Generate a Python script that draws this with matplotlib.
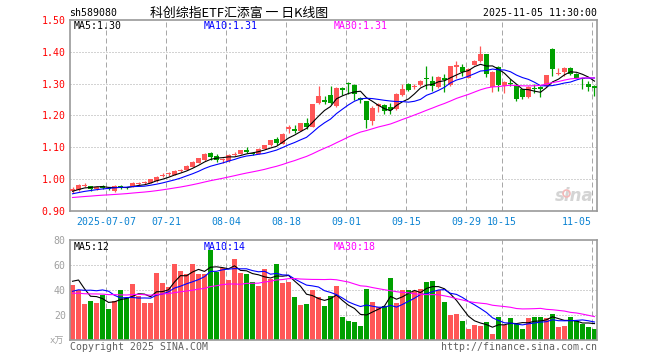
import numpy as np
import pandas as pd
import matplotlib
matplotlib.use("Agg")
import matplotlib.pyplot as plt

# daily candles 2025-06-27 .. 2025-11-05
open_ = [0.964, 0.965, 0.980, 0.978, 0.968, 0.977, 0.972, 0.963, 0.978, 0.974,
         0.977, 0.985, 0.988, 0.989, 0.993, 1.010, 1.015, 1.014, 1.025, 1.030,
         1.039, 1.052, 1.060, 1.082, 1.073, 1.060, 1.057, 1.077, 1.080, 1.091,
         1.082, 1.080, 1.096, 1.106, 1.125, 1.111, 1.159, 1.159, 1.152, 1.176,
         1.165, 1.238, 1.250, 1.263, 1.230, 1.285, 1.302, 1.297, 1.254, 1.245,
         1.183, 1.230, 1.232, 1.226, 1.220, 1.265, 1.300, 1.291, 1.296, 1.318,
         1.308, 1.288, 1.319, 1.296, 1.353, 1.353, 1.319, 1.360, 1.371, 1.392,
         1.288, 1.352, 1.293, 1.302, 1.293, 1.282, 1.258, 1.287, 1.290, 1.293,
         1.410, 1.329, 1.337, 1.348, 1.331, 1.318, 1.300, 1.293]
close = [0.970, 0.982, 0.983, 0.970, 0.975, 0.973, 0.970, 0.980, 0.973, 0.972,
         0.988, 0.988, 0.991, 0.999, 1.008, 1.013, 1.018, 1.027, 1.029, 1.041,
         1.055, 1.065, 1.080, 1.070, 1.060, 1.063, 1.077, 1.080, 1.091, 1.086,
         1.079, 1.096, 1.106, 1.122, 1.113, 1.142, 1.163, 1.152, 1.176, 1.165,
         1.235, 1.261, 1.242, 1.238, 1.287, 1.281, 1.298, 1.266, 1.249, 1.185,
         1.224, 1.235, 1.214, 1.216, 1.269, 1.282, 1.279, 1.294, 1.308, 1.314,
         1.293, 1.321, 1.310, 1.355, 1.358, 1.336, 1.347, 1.371, 1.392, 1.331,
         1.338, 1.296, 1.306, 1.299, 1.253, 1.258, 1.290, 1.282, 1.282, 1.326,
         1.347, 1.334, 1.350, 1.329, 1.319, 1.315, 1.290, 1.287]
high = [0.975, 0.984, 0.987, 0.980, 0.977, 0.981, 0.974, 0.982, 0.981, 0.976,
        0.990, 0.992, 0.995, 1.001, 1.010, 1.018, 1.022, 1.029, 1.033, 1.043,
        1.057, 1.067, 1.082, 1.085, 1.080, 1.068, 1.079, 1.084, 1.093, 1.101,
        1.085, 1.098, 1.108, 1.124, 1.133, 1.144, 1.170, 1.169, 1.178, 1.191,
        1.237, 1.292, 1.260, 1.292, 1.289, 1.288, 1.306, 1.299, 1.259, 1.247,
        1.231, 1.238, 1.235, 1.240, 1.271, 1.300, 1.302, 1.300, 1.310, 1.355,
        1.324, 1.323, 1.331, 1.357, 1.370, 1.362, 1.349, 1.373, 1.418, 1.394,
        1.340, 1.355, 1.308, 1.314, 1.295, 1.284, 1.292, 1.298, 1.292, 1.328,
        1.412, 1.350, 1.352, 1.352, 1.333, 1.319, 1.308, 1.295]
low = [0.958, 0.963, 0.976, 0.964, 0.966, 0.968, 0.966, 0.961, 0.970, 0.969,
       0.975, 0.982, 0.985, 0.987, 0.991, 1.006, 1.011, 1.012, 1.021, 1.028,
       1.037, 1.050, 1.058, 1.061, 1.055, 1.052, 1.055, 1.074, 1.078, 1.081,
       1.076, 1.078, 1.094, 1.104, 1.108, 1.109, 1.145, 1.146, 1.150, 1.159,
       1.163, 1.236, 1.235, 1.235, 1.228, 1.263, 1.268, 1.248, 1.240, 1.162,
       1.171, 1.212, 1.204, 1.204, 1.218, 1.262, 1.277, 1.283, 1.294, 1.283,
       1.277, 1.286, 1.274, 1.294, 1.318, 1.324, 1.317, 1.358, 1.369, 1.321,
       1.275, 1.276, 1.272, 1.293, 1.246, 1.251, 1.256, 1.272, 1.258, 1.291,
       1.324, 1.327, 1.324, 1.327, 1.317, 1.282, 1.277, 1.261]
volume = [44.0, 40.0, 28.8, 31.2, 29.6, 36.0, 24.8, 31.2, 40.0, 33.9,
          44.8, 35.2, 29.6, 29.6, 53.6, 45.6, 42.4, 60.8, 55.2, 52.8,
          60.8, 52.8, 52.8, 72.0, 54.4, 57.6, 48.0, 64.8, 53.6, 52.8,
          46.4, 43.2, 56.8, 48.8, 60.8, 45.6, 46.4, 34.4, 28.0, 28.8,
          40.0, 34.4, 27.2, 35.0, 43.2, 18.4, 15.2, 14.4, 11.2, 40.8,
          30.4, 26.4, 27.2, 49.6, 29.6, 40.0, 40.0, 39.2, 40.8, 46.4,
          47.2, 40.0, 30.4, 20.0, 20.8, 15.2, 8.8, 12.0, 11.2, 14.4,
          4.8, 18.4, 12.0, 17.6, 12.8, 8.8, 17.6, 18.4, 18.4, 17.6,
          20.8, 10.4, 11.2, 18.4, 15.2, 12.8, 10.4, 8.8]

# sessions before the window, only needed so the moving averages start right
close_before = [0.935, 0.938, 0.930, 0.928, 0.933, 0.940, 0.942, 0.936, 0.931, 0.934,
                0.939, 0.944, 0.941, 0.937, 0.935, 0.932, 0.936, 0.940, 0.938, 0.942,
                0.944, 0.946, 0.943, 0.948, 0.950, 0.955, 0.958, 0.962, 0.965]
volume_before = [38, 42, 35, 31, 40, 36, 33, 45, 37, 34, 30, 39, 41, 36, 32, 35, 38,
                 34, 36, 40, 28, 33, 30, 34, 29.5, 35, 64, 61, 31]

date_idx = [6, 16, 26, 36, 46, 56, 66, 72, 87]
date_lbl = ["2025-07-07", "07-21", "08-04", "08-18", "09-01", "09-15",
            "09-29", "10-15", "11-05"]

RED = "#ff5757"
GREEN = "#00a000"
GRID = "#a8a8a8"
FRAME = "#999999"
MONO = "DejaVu Sans Mono"
FS = 7.1
W, H = 660, 360


def px(x, y):
    return x / W, 1 - y / H


def mas(before, values, n):
    s = pd.Series(list(before) + list(values))
    return s.rolling(n, min_periods=1).mean().values[len(before):]


def style_axes(ax):
    for sp in ax.spines.values():
        sp.set_color(FRAME)
        sp.set_linewidth(1.2)
    ax.set_xlim(-0.42, len(close) - 0.58)
    for i in date_idx:
        ax.axvline(i - 0.42, color=GRID, lw=0.72, ls=(0, (5, 3)), zorder=0)
    ax.tick_params(length=0)


fig = plt.figure(figsize=(W / 100, H / 100), dpi=100)
ax = fig.add_axes([70 / W, 1 - 211 / H, 527 / W, 191 / H])
axv = fig.add_axes([70 / W, 1 - 340 / H, 527 / W, 100 / H])

x = np.arange(len(close))
o = np.array(open_)
c = np.array(close)
up = c >= o
colors = [RED if u else GREEN for u in up]

# price panel
style_axes(ax)
ax.set_ylim(0.90, 1.50)
for v in [1.0, 1.1, 1.2, 1.3, 1.4]:
    ax.axhline(v, color=GRID, lw=0.72, ls=(0, (1, 2)), zorder=0)
ax.vlines(x, low, high, colors=colors, lw=0.9, zorder=2)
body_lo = np.minimum(o, c)
body_h = np.maximum(np.abs(c - o), 0.0028)
ax.bar(x, body_h, bottom=body_lo, width=0.8, color=colors, zorder=3)
ax.plot(x, mas(close_before, close, 5), color="black", lw=0.8, zorder=4)
ax.plot(x, mas(close_before, close, 10), color="#0000ff", lw=0.8, zorder=4)
ax.plot(x, mas(close_before, close, 30), color="#ff00ff", lw=0.8, zorder=4)

ax.set_yticks(np.arange(0.9, 1.501, 0.1))
ax.set_yticklabels(["%.2f" % v for v in np.arange(0.9, 1.501, 0.1)],
                   family=MONO, fontsize=FS, color="#ff0000")
ax.tick_params(axis="y", pad=3)
ax.set_xticks([i - 0.42 for i in date_idx])
ax.set_xticklabels(date_lbl, family=MONO, fontsize=FS, color="#0a82d2")
ax.tick_params(axis="x", pad=4)
ax.get_xticklabels()[-1].set_horizontalalignment("right")

ax.text(0.993, 0.03, "sina", transform=ax.transAxes, ha="right", va="bottom",
        fontsize=12, fontweight="bold", style="italic", color="#d4d4d4", zorder=1)
ax.plot([82.2], [0.955], marker="o", ms=5, mfc="none", mec="#f3b8b8", mew=1.2,
        zorder=1)

# volume panel
style_axes(axv)
axv.set_ylim(0, 80)
for v in [20, 40, 60]:
    axv.axhline(v, color=GRID, lw=0.72, ls=(0, (1, 2)), zorder=0)
axv.bar(x, volume, width=0.8, color=colors, zorder=2)
axv.plot(x, mas(volume_before, volume, 5), color="black", lw=0.8, zorder=4)
axv.plot(x, mas(volume_before, volume, 10), color="#0000ff", lw=0.8, zorder=4)
axv.plot(x, mas(volume_before, volume, 30), color="#ff00ff", lw=0.8, zorder=4)
axv.set_yticks([20, 40, 60, 80])
axv.set_yticklabels(["20", "40", "60", "80"], family=MONO, fontsize=FS,
                    color="#a0a0a0")
axv.tick_params(axis="y", pad=3)
axv.set_xticks([])

# header and labels
fig.text(*px(69, 13), "sh589080", family=MONO, fontsize=FS, va="center")
fig.text(*px(150, 13), "科创综指ETF汇添富 一 日K线图",
         family=["Noto Sans CJK SC", "DejaVu Sans"], fontsize=9.3, va="center")
fig.text(*px(597, 13), "2025-11-05 11:30:00", family=MONO, fontsize=FS,
         ha="right", va="center")

fig.text(*px(74, 26), "MA5:1.30", family=MONO, fontsize=FS, va="center")
fig.text(*px(204, 26), "MA10:1.31", family=MONO, fontsize=FS, va="center",
         color="#0000ff")
fig.text(*px(334, 26), "MA30:1.31", family=MONO, fontsize=FS, va="center",
         color="#ff00ff")

fig.text(*px(74, 246.5), "MA5:12", family=MONO, fontsize=FS, va="center")
fig.text(*px(204, 246.5), "MA10:14", family=MONO, fontsize=FS, va="center",
         color="#0000ff")
fig.text(*px(334, 246.5), "MA30:18", family=MONO, fontsize=FS, va="center",
         color="#ff00ff")

fig.text(*px(64, 341), "x万", family=[MONO, "Noto Sans CJK SC"], fontsize=6.5,
         ha="right", va="center", color="#a0a0a0")
fig.text(*px(70, 346.5), "Copyright 2025 SINA.COM", family=MONO, fontsize=FS,
         va="center", color="#606060")
fig.text(*px(597, 346.5), "http://finance.sina.com.cn", family=MONO,
         fontsize=FS, ha="right", va="center", color="#606060")

fig.savefig("out.png", dpi=100)
